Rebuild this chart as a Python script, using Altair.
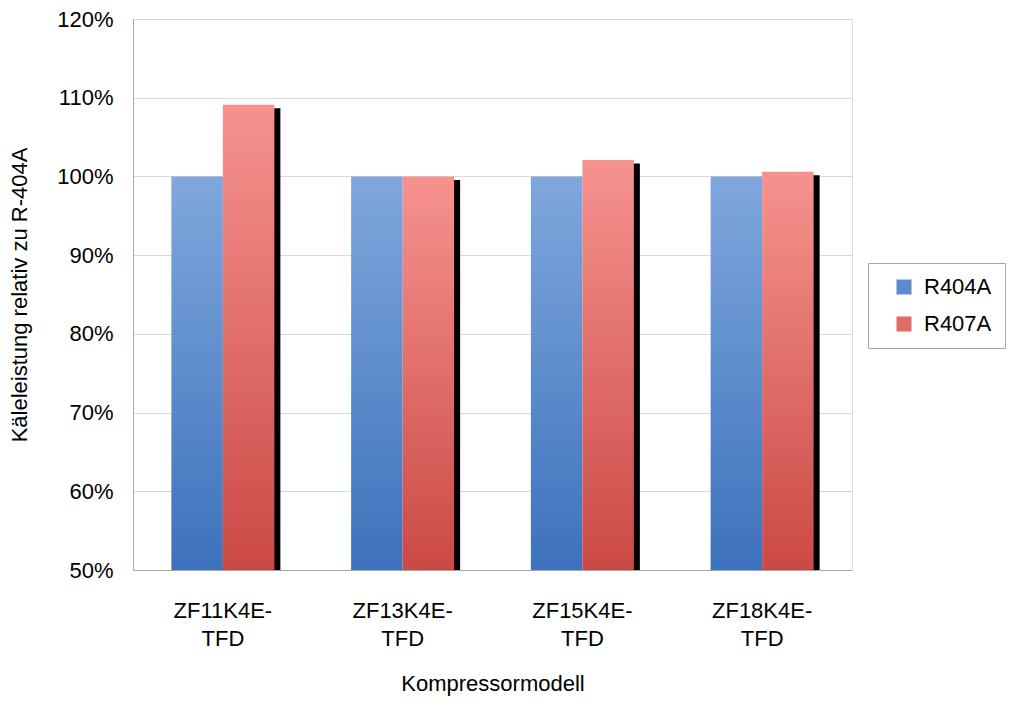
import altair as alt
import pandas as pd

categories = ["ZF11K4E-TFD", "ZF13K4E-TFD", "ZF15K4E-TFD", "ZF18K4E-TFD"]
series = ["R404A", "R407A"]
r404a = [1.000, 1.000, 1.000, 1.000]
r407a = [1.091, 1.000, 1.021, 1.006]

rows = []
for c, a, b in zip(categories, r404a, r407a):
    rows.append({"cat": c, "series": "R404A", "value": a})
    rows.append({"cat": c, "series": "R407A", "value": b})
df = pd.DataFrame(rows)

FONT = "Liberation Sans"
FS = 22
W, H = 719, 551
BAR = 51.5

blue_grad = alt.Gradient(gradient="linear", x1=0, x2=0, y1=0, y2=1,
                         stops=[alt.GradientStop(offset=0, color="#80a7dd"),
                                alt.GradientStop(offset=1, color="#3c72bc")])
red_grad = alt.Gradient(gradient="linear", x1=0, x2=0, y1=0, y2=1,
                        stops=[alt.GradientStop(offset=0, color="#f6938f"),
                               alt.GradientStop(offset=1, color="#cb4945")])

x_enc = alt.X("cat:N", sort=categories,
              scale=alt.Scale(paddingInner=0, paddingOuter=0),
              axis=alt.Axis(title="Kompressormodell", labelAngle=0,
                            labelExpr="[slice(datum.label,0,8), slice(datum.label,8)]",
                            labelFontSize=FS, labelFont=FONT, labelColor="#000",
                            labelLineHeight=28, labelPadding=30, ticks=False,
                            titleFontSize=FS, titleFont=FONT, titleFontWeight="normal",
                            titleColor="#000", titlePadding=24,
                            domainColor="#a6a6a6", grid=False))
y_enc = alt.Y("value:Q",
              scale=alt.Scale(domain=[0.5, 1.2], zero=False, nice=False),
              axis=alt.Axis(title="Käleleistung relativ zu  R-404A", format=".0%",
                            values=[0.5, 0.6, 0.7, 0.8, 0.9, 1.0, 1.1, 1.2],
                            labelFontSize=FS, labelFont=FONT, labelColor="#000",
                            labelPadding=20, ticks=False,
                            titleFontSize=FS, titleFont=FONT, titleFontWeight="normal",
                            titleColor="#000", titlePadding=25,
                            domainColor="#a6a6a6", gridColor="#d9d9d9"))

base = alt.Chart(df)

shadow = base.transform_filter(alt.datum.series == "R407A").mark_bar(
    color="black", width=BAR, xOffset=BAR / 2 + 6, yOffset=3.5, clip=True
).encode(x=x_enc, y=y_enc, y2=alt.datum(0.5))

blue = base.transform_filter(alt.datum.series == "R404A").mark_bar(
    fill=blue_grad, width=BAR, xOffset=-BAR / 2
).encode(x=x_enc, y=y_enc, y2=alt.datum(0.5))

red = base.transform_filter(alt.datum.series == "R407A").mark_bar(
    fill=red_grad, width=BAR, xOffset=BAR / 2
).encode(x=x_enc, y=y_enc, y2=alt.datum(0.5))

legend_layer = base.mark_square(opacity=0).encode(
    x=x_enc, y=y_enc,
    color=alt.Color("series:N", sort=series,
                    scale=alt.Scale(domain=series, range=["#5a89cf", "#e36b67"]),
                    legend=alt.Legend(title=None, orient="none", legendX=735, legendY=244,
                                      labelFontSize=FS, labelFont=FONT, labelColor="#000",
                                      symbolType="square", symbolSize=225, symbolOpacity=1,
                                      symbolStrokeWidth=0, rowPadding=15, labelOffset=9,
                                      symbolOffset=12, padding=13,
                                      strokeColor="#a6a6a6", fillColor="white"))
)

chart = alt.layer(shadow, blue, red, legend_layer).properties(
    width=W, height=H,
    autosize=alt.AutoSizeParams(type="none"),
    padding={"left": 125, "top": 11, "right": 164, "bottom": 129},
).configure_view(stroke="#a6a6a6").configure(background="white")

chart.save("out.html", embed_options={"renderer": "svg", "actions": False})
